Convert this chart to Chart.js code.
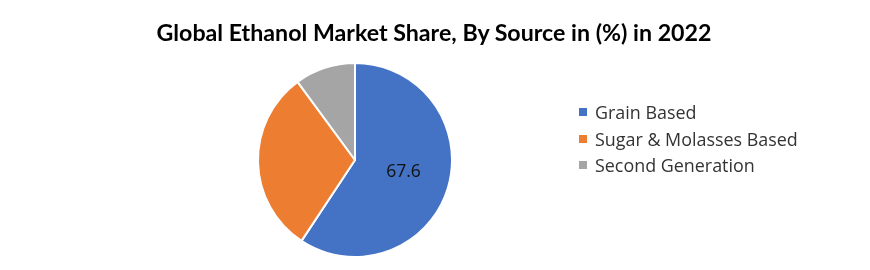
<!DOCTYPE html>
<html><head><meta charset="utf-8">
<script src="https://cdn.jsdelivr.net/npm/chart.js@4.4.1/dist/chart.umd.min.js"></script>
<style>
html,body{margin:0;padding:0;background:#fff;}
#wrap{position:relative;width:870px;height:270px;overflow:hidden;background:#fff;}
#c{position:absolute;left:0;top:0;}
#title{position:absolute;left:0;top:19px;width:868px;text-align:center;font-family:Lato,sans-serif;font-weight:bold;font-size:23.2px;color:#000;line-height:26px;white-space:nowrap;}
#legend{position:absolute;left:579px;top:99px;font-family:'Open Sans',sans-serif;font-size:17.9px;color:#333;}
.item{display:flex;align-items:center;height:26.5px;white-space:nowrap;}
.sw{width:8px;height:8px;margin-right:8px;flex:none;}
</style></head>
<body><div id="wrap"><canvas id="c" width="870" height="270"></canvas><div id="title"></div><div id="legend"></div></div>
<script>
const titleText = 'Global Ethanol Market Share, By Source in (%) in 2022';
const categories = ['Grain Based', 'Sugar & Molasses Based', 'Second Generation'];
const values = [67.6, 34.9, 11.5];
const valueLabels = ['67.6', '', ''];
const colors = ['#4472C4', '#ED7D31', '#A5A5A5'];

document.getElementById('title').textContent = titleText;
const legendEl = document.getElementById('legend');
categories.forEach((c, i) => {
  const row = document.createElement('div');
  row.className = 'item';
  const sw = document.createElement('span');
  sw.className = 'sw';
  sw.style.background = colors[i];
  const tx = document.createElement('span');
  tx.textContent = c;
  row.appendChild(sw); row.appendChild(tx);
  legendEl.appendChild(row);
});

const labelPlugin = {
  id: 'valueLabels',
  afterDatasetsDraw(chart) {
    const ctx = chart.ctx;
    const meta = chart.getDatasetMeta(0);
    ctx.save();
    ctx.font = '17.5px "Open Sans", sans-serif';
    ctx.fillStyle = '#111';
    ctx.textAlign = 'center';
    ctx.textBaseline = 'middle';
    meta.data.forEach((arc, i) => {
      if (!valueLabels[i]) return;
      const p = arc.tooltipPosition();
      ctx.fillText(valueLabels[i], p.x + 2, p.y - 2);
    });
    ctx.restore();
  }
};

new Chart(document.getElementById('c'), {
  type: 'pie',
  data: {
    labels: categories,
    datasets: [{
      data: values,
      backgroundColor: colors,
      borderColor: '#ffffff',
      borderWidth: 2
    }]
  },
  options: {
    responsive: false,
    animation: false,
    layout: { padding: { left: 257, right: 417, top: 62, bottom: 12 } },
    plugins: {
      legend: { display: false },
      title: { display: false },
      tooltip: { enabled: false }
    }
  },
  plugins: [labelPlugin]
});
</script>
</body></html>
